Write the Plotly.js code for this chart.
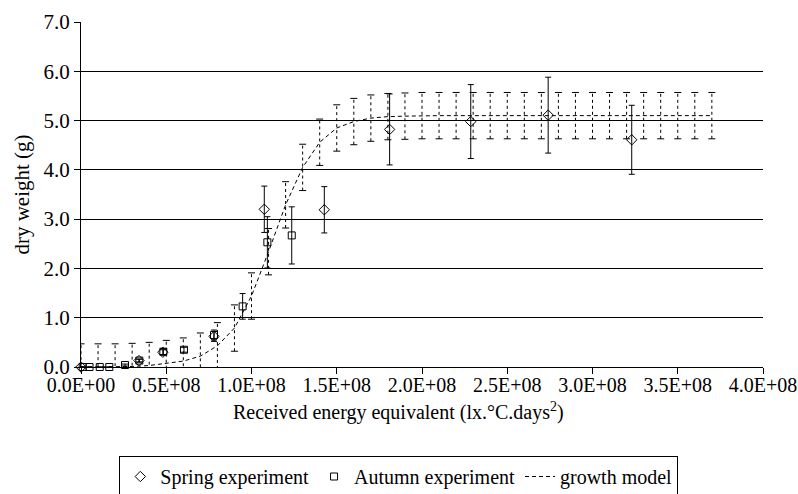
<!DOCTYPE html>
<html>
<head>
<meta charset="utf-8">
<script src="https://cdn.plot.ly/plotly-3.0.1.min.js"></script>
<style>
  html, body { margin: 0; padding: 0; background: #fff; }
  #chart { width: 798px; height: 494px; }
  #chart svg text { font-family: "Liberation Serif", "Times New Roman", serif !important; }
</style>
</head>
<body>
<div id="chart"></div>
<script>
// ---- Data ----
const springX   = [0, 3.4e7, 4.8e7, 7.8e7, 1.075e8, 1.427e8, 1.81e8, 2.286e8, 2.74e8, 3.23e8];
const springY   = [0, 0.13, 0.30, 0.62, 3.20, 3.19, 4.82, 4.98, 5.11, 4.61];
const springErr = [0, 0.03, 0.05, 0.10, 0.47, 0.47, 0.72, 0.75, 0.77, 0.70];

const autumnX   = [1e6, 5e6, 1.1e7, 1.66e7, 2.58e7, 3.42e7, 4.83e7, 6.04e7, 7.8e7, 9.48e7, 1.093e8, 1.236e8];
const autumnY   = [0, 0, 0, 0, 0.04, 0.13, 0.31, 0.35, 0.65, 1.23, 2.53, 2.67];
const autumnErr = [0, 0, 0, 0, 0.02, 0.03, 0.06, 0.05, 0.10, 0.26, 0.52, 0.58];

const modelX = [0, 1e7, 2e7, 3e7, 4e7, 5e7, 6e7, 7e7, 8e7, 9e7,
                1.0e8, 1.1e8, 1.2e8, 1.3e8, 1.4e8, 1.5e8, 1.6e8, 1.7e8, 1.8e8, 1.9e8,
                2.0e8, 2.1e8, 2.2e8, 2.3e8, 2.4e8, 2.5e8, 2.6e8, 2.7e8, 2.8e8, 2.9e8,
                3.0e8, 3.1e8, 3.2e8, 3.3e8, 3.4e8, 3.5e8, 3.6e8, 3.7e8];
const modelY = [0.00, 0.00, 0.00, 0.01, 0.03, 0.07, 0.12, 0.22, 0.43, 0.79,
                1.44, 2.34, 3.29, 4.05, 4.56, 4.85, 4.98, 5.05, 5.08, 5.09,
                5.10, 5.10, 5.10, 5.10, 5.10, 5.10, 5.10, 5.10, 5.10, 5.10,
                5.10, 5.10, 5.10, 5.10, 5.10, 5.10, 5.10, 5.10];
const modelErr = 0.47;

const xTickVals  = [0, 0.5e8, 1.0e8, 1.5e8, 2.0e8, 2.5e8, 3.0e8, 3.5e8, 4.0e8];
const xTickText  = ["0.0E+00", "0.5E+08", "1.0E+08", "1.5E+08", "2.0E+08", "2.5E+08", "3.0E+08", "3.5E+08", "4.0E+08"];

const xTitle = "Received energy equivalent (lx.°C.days<sup>2</sup>)";
const yTitle = "dry weight (g)";

// ---- Derived geometry for dashed model error bars ----
const stemX = [], stemY = [], capX = [], capY = [];
modelX.forEach((x, i) => {
  stemX.push(x, x, null);
  stemY.push(modelY[i] - modelErr, modelY[i] + modelErr, null);
  capX.push(x, x);
  capY.push(modelY[i] - modelErr, modelY[i] + modelErr);
});

const FONT = "Liberation Serif";

const traces = [
  {
    x: stemX, y: stemY, mode: "lines", type: "scatter",
    line: { color: "black", width: 1, dash: "3px,3px" },
    showlegend: false, hoverinfo: "skip"
  },
  {
    x: capX, y: capY, mode: "markers", type: "scatter",
    marker: { symbol: "line-ew", size: 5, line: { color: "black", width: 1 } },
    showlegend: false, hoverinfo: "skip"
  },
  {
    name: "growth model", x: modelX, y: modelY, mode: "lines", type: "scatter",
    line: { color: "black", width: 1, dash: "4px,3px" },
    legendrank: 3
  },
  {
    name: "Autumn experiment", x: autumnX, y: autumnY, mode: "markers", type: "scatter",
    marker: { symbol: "square-open", size: 7, color: "black", line: { color: "black", width: 1 } },
    error_y: { type: "data", array: autumnErr, visible: true, color: "black", thickness: 1, width: 3 },
    cliponaxis: false, legendrank: 2
  },
  {
    name: "Spring experiment", x: springX, y: springY, mode: "markers", type: "scatter",
    marker: { symbol: "diamond-open", size: 8, color: "black", line: { color: "black", width: 1 } },
    error_y: { type: "data", array: springErr, visible: true, color: "black", thickness: 1, width: 3 },
    cliponaxis: false, legendrank: 1
  }
];

const layout = {
  width: 798, height: 494,
  margin: { l: 81, r: 35, t: 22, b: 127, autoexpand: false },
  paper_bgcolor: "white", plot_bgcolor: "white",
  font: { family: FONT, size: 20, color: "black" },
  showlegend: true,
  legend: {
    orientation: "h", x: 0.466, xanchor: "center", y: -0.258, yanchor: "top",
    bordercolor: "black", borderwidth: 1, font: { family: FONT, size: 20, color: "black" },
    itemwidth: 30, traceorder: "normal"
  },
  annotations: [
    {
      text: xTitle, xref: "paper", yref: "paper", x: 0.466, y: -0.13,
      xanchor: "center", yanchor: "middle", showarrow: false,
      font: { family: FONT, size: 20, color: "black" }
    }
  ],
  xaxis: {
    range: [0, 4.0e8], tickmode: "array", tickvals: xTickVals, ticktext: xTickText,
    showgrid: false, zeroline: false, showline: true, linecolor: "black", linewidth: 1,
    ticks: "outside", ticklen: 6, tickcolor: "black", tickwidth: 1,
    tickfont: { family: FONT, size: 20 }, ticklabelstandoff: -6, ticklabeloverflow: "allow"
  },
  yaxis: {
    range: [0, 7], dtick: 1, tickformat: ".1f",
    showgrid: true, gridcolor: "black", gridwidth: 1, zeroline: false,
    showline: true, linecolor: "black", linewidth: 1,
    ticks: "outside", ticklen: 6, tickcolor: "black", tickwidth: 1,
    tickfont: { family: FONT, size: 21 },
    title: { text: yTitle, font: { family: FONT, size: 21 }, standoff: 8 }
  }
};

Plotly.newPlot("chart", traces, layout, { displayModeBar: false, staticPlot: true });
</script>
</body>
</html>
